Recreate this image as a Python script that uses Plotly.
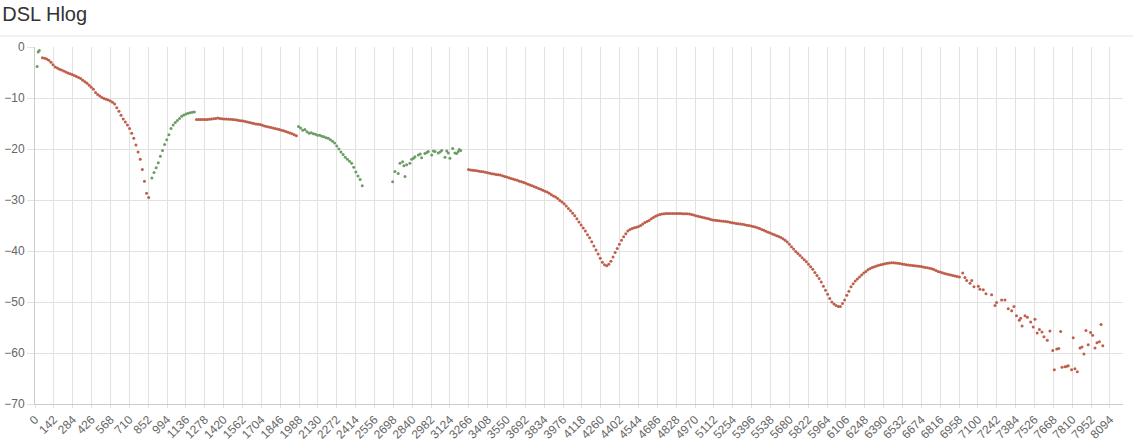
import plotly.graph_objects as go

# ---------------- data (tone index -> Hlog dB) ----------------
STEP = 16

# downstream (red) smooth segments: start tone + values every STEP tones
ds1_start = 56
ds1_vals = [-2.1, -2.2, -2.35, -2.6, -3.0, -3.5, -3.9, -4.1, -4.35, -4.5,
            -4.7, -4.9, -5.1, -5.25, -5.4, -5.6, -5.8, -6.0, -6.2, -6.5,
            -6.8, -7.1, -7.5, -7.9, -8.3, -8.9, -9.3, -9.6, -9.9, -10.1,
            -10.25, -10.4, -10.6, -10.85, -11.2, -11.9, -12.6, -13.4, -14.1, -14.7,
            -15.3, -16.0, -16.9, -17.9, -19.2, -20.6, -22.0, -24.0, -26.3, -28.7,
            -29.5]

ds2_start = 1216
ds2_vals = [-14.2, -14.2, -14.2, -14.2, -14.2, -14.2, -14.15, -14.1, -14.05, -14.0,
            -13.9, -14.0, -14.05, -14.1, -14.1, -14.15, -14.15, -14.2, -14.25, -14.3,
            -14.4, -14.45, -14.5, -14.6, -14.7, -14.8, -14.9, -15.0, -15.1, -15.15,
            -15.2, -15.35, -15.5, -15.6, -15.7, -15.8, -15.9, -16.0, -16.1, -16.2,
            -16.3, -16.4, -16.55, -16.7, -16.85, -17.0, -17.2, -17.4]

ds3_start = 3264
ds3_vals = [-24.0, -24.1, -24.15, -24.2, -24.25, -24.35, -24.4, -24.45, -24.55, -24.65,
            -24.75, -24.85, -24.9, -25.0, -25.05, -25.1, -25.25, -25.4, -25.5, -25.65,
            -25.8, -25.9, -26.05, -26.15, -26.3, -26.4, -26.55, -26.7, -26.9, -27.05,
            -27.2, -27.4, -27.55, -27.75, -27.9, -28.1, -28.3, -28.45, -28.7, -28.95,
            -29.2, -29.4, -29.7, -30.1, -30.4, -30.75, -31.2, -31.65, -32.1, -32.6,
            -33.1, -33.7, -34.3, -34.9, -35.5, -36.1, -36.8, -37.4, -38.2, -39.0,
            -39.8, -40.6, -41.4, -42.2, -42.7, -42.9, -42.6, -42.0, -41.2, -40.3,
            -39.5, -38.7, -37.9, -37.2, -36.6, -36.1, -35.8, -35.6, -35.45, -35.35,
            -35.2, -35.0, -34.7, -34.4, -34.2, -34.0, -33.7, -33.45, -33.2, -33.0,
            -32.85, -32.75, -32.7, -32.65, -32.65, -32.65, -32.65, -32.65, -32.65, -32.65,
            -32.65, -32.7, -32.7, -32.7, -32.75, -32.85, -32.95, -33.1, -33.2, -33.3,
            -33.4, -33.5, -33.6, -33.7, -33.8, -33.9, -33.95, -34.0, -34.05, -34.1,
            -34.15, -34.2, -34.25, -34.35, -34.45, -34.5, -34.6, -34.65, -34.7, -34.75,
            -34.85, -34.95, -35.0, -35.1, -35.2, -35.3, -35.45, -35.6, -35.8, -35.95,
            -36.15, -36.3, -36.45, -36.65, -36.8, -37.0, -37.15, -37.35, -37.6, -37.9,
            -38.25, -38.7, -39.15, -39.6, -40.1, -40.5, -40.9, -41.3, -41.7, -42.1,
            -42.6, -43.1, -43.6, -44.2, -44.8, -45.4, -46.1, -46.9, -47.7, -48.5,
            -49.3, -50.0, -50.4, -50.7, -50.9, -50.9, -50.3, -49.6, -48.7, -47.9,
            -47.0, -46.4, -45.9, -45.5, -45.1, -44.7, -44.3, -44.0, -43.7, -43.45,
            -43.25, -43.1, -42.95, -42.8, -42.7, -42.6, -42.5, -42.4, -42.35, -42.3,
            -42.3, -42.35, -42.4, -42.45, -42.55, -42.6, -42.7, -42.75, -42.8, -42.85,
            -42.9, -42.95, -43.0, -43.05, -43.15, -43.25, -43.3, -43.4, -43.5, -43.65,
            -43.8, -44.0, -44.1, -44.25, -44.4, -44.5, -44.6, -44.7, -44.8, -44.9,
            -45.0, -45.1]

# downstream (red) noisy tail: explicit tones + values
ds_tail_tones = [6985, 7002, 7015, 7040, 7053, 7070, 7103, 7115, 7140, 7160,
                 7203, 7228, 7240, 7278, 7303, 7328, 7354, 7371, 7390, 7411,
                 7421, 7432, 7454, 7472, 7497, 7516, 7529, 7546, 7563, 7582,
                 7597, 7622, 7642, 7663, 7675, 7693, 7708, 7723, 7733, 7756,
                 7770, 7780, 7805, 7817, 7830, 7848, 7868, 7883, 7898, 7913,
                 7930, 7948, 7963, 7981, 7996, 8014, 8027, 8040]
ds_tail_vals = [-44.3, -45.2, -45.8, -46.3, -45.8, -47.0, -46.9, -47.5, -47.6, -48.4,
                -48.6, -50.7, -50.1, -49.6, -49.6, -51.3, -51.7, -50.9, -52.7, -53.6,
                -53.2, -54.7, -52.7, -53.0, -53.9, -54.9, -53.4, -56.1, -55.4, -55.9,
                -56.8, -57.5, -55.7, -59.5, -63.3, -59.2, -59.1, -55.8, -62.8, -62.7,
                -62.6, -62.5, -63.3, -57.0, -63.1, -63.7, -59.0, -58.8, -60.2, -55.6,
                -58.4, -56.0, -56.5, -59.0, -58.0, -57.8, -54.4, -58.6]

# upstream (green) segments
us0_tones = [16, 24, 32]
us0_vals = [-3.8, -1.0, -0.7]

us1_start = 880
us1_vals = [-25.7, -24.6, -23.7, -22.7, -21.4, -20.3, -19.1, -18.2, -17.2, -16.0,
            -15.3, -14.8, -14.4, -14.0, -13.6, -13.35, -13.15, -13.0, -12.9, -12.8,
            -12.75]

us2_start = 1984
us2_vals = [-15.6, -15.9, -16.3, -16.2, -16.6, -16.9, -16.8, -17.0, -17.1, -17.3,
            -17.3, -17.5, -17.6, -17.8, -17.9, -18.2, -18.5, -18.8, -19.4, -20.0,
            -20.6, -21.1, -21.6, -22.0, -22.4, -22.8, -23.6, -24.5, -25.3, -26.0,
            -27.2]

us3_tones = [2693, 2710, 2735, 2748, 2768, 2778, 2786, 2798, 2823, 2836,
             2850, 2861, 2886, 2900, 2911, 2936, 2950, 2961, 2987, 3000,
             3012, 3036, 3050, 3062, 3087, 3100, 3112, 3124, 3145, 3162,
             3175, 3187, 3195, 3205]
us3_vals = [-26.4, -24.4, -24.8, -22.8, -22.5, -23.3, -25.4, -23.1, -22.8, -22.0,
            -21.8, -21.5, -21.2, -21.0, -21.7, -20.9, -20.7, -20.5, -21.2, -20.4,
            -20.5, -20.8, -20.6, -20.3, -21.6, -20.4, -20.8, -21.8, -19.9, -20.8,
            -20.9, -20.5, -20.1, -20.3]

TITLE = "DSL Hlog"
X_MAX = 8192
X_TICK_STEP = 142
Y_RANGE = [-70, 0]
Y_TICK_STEP = 10

RED = "#bf5f4b"
GREEN = "#6b9e63"


def seg(start, vals):
    return [start + STEP * i for i in range(len(vals))], vals


red_x, red_y = [], []
for s, v in [(ds1_start, ds1_vals), (ds2_start, ds2_vals), (ds3_start, ds3_vals)]:
    xs, ys = seg(s, v)
    red_x += xs + [None]
    red_y += ys + [None]
red_x += ds_tail_tones
red_y += ds_tail_vals

green_x, green_y = list(us0_tones) + [None], list(us0_vals) + [None]
for s, v in [(us1_start, us1_vals), (us2_start, us2_vals)]:
    xs, ys = seg(s, v)
    green_x += xs + [None]
    green_y += ys + [None]
green_x += us3_tones
green_y += us3_vals

fig = go.Figure()
fig.add_trace(go.Scatter(x=red_x, y=red_y, mode="markers", name="Downstream",
                         marker=dict(color=RED, size=3, line=dict(width=0))))
fig.add_trace(go.Scatter(x=green_x, y=green_y, mode="markers", name="Upstream",
                         marker=dict(color=GREEN, size=3, line=dict(width=0))))

grid = "#e2e2e2"
fig.update_layout(
    width=1133, height=445,
    margin=dict(l=35, r=10, t=47, b=41, autoexpand=False),
    paper_bgcolor="white", plot_bgcolor="white",
    showlegend=False,
    font=dict(family="Liberation Sans, Arial, sans-serif", color="#666", size=12),
    title=dict(text=TITLE, x=0.002, xref="container", xanchor="left",
               y=0.985, yref="container", yanchor="top",
               font=dict(size=20, color="#333", family="Liberation Sans, Arial, sans-serif")),
    xaxis=dict(range=[0, X_MAX], tick0=0, dtick=X_TICK_STEP, tickangle=-45,
               showgrid=True, gridcolor=grid, gridwidth=1, zeroline=False,
               showline=True, linecolor="#cccccc", mirror=False,
               ticks="outside", ticklen=3, tickcolor=grid,
               tickfont=dict(size=12, color="#666"), automargin=False),
    yaxis=dict(range=Y_RANGE, dtick=Y_TICK_STEP, showgrid=True, gridcolor=grid,
               gridwidth=1, zeroline=False, showline=True, linecolor="#cccccc",
               ticks="outside", ticklen=7, tickcolor=grid,
               tickfont=dict(size=12, color="#666"), automargin=False),
    shapes=[dict(type="line", xref="paper", yref="paper",
                 x0=-35 / 1088, x1=1 + 10 / 1088, y0=1 + 11 / 357, y1=1 + 11 / 357,
                 line=dict(color="#e5e5e5", width=1))],
)

fig.write_html("out.html", config={"displayModeBar": False},
               post_script="document.body.style.margin='0';document.body.style.overflow='hidden';")
